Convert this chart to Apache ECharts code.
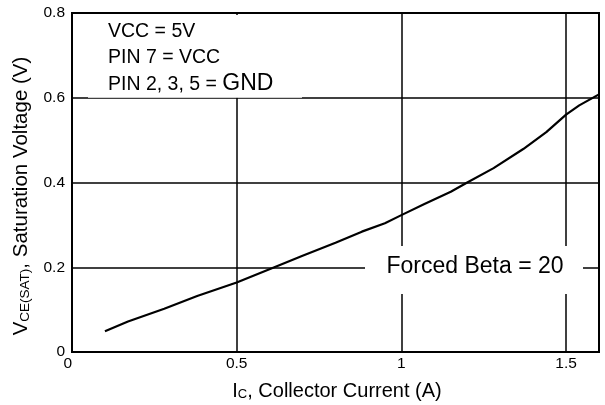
<!DOCTYPE html>
<html>
<head>
<meta charset="utf-8">
<script src="https://cdn.jsdelivr.net/npm/echarts@6/dist/echarts.min.js"></script>
<style>
html,body{margin:0;padding:0;background:#fff;}
#c{width:605px;height:405px;}
</style>
</head>
<body>
<div id="c"></div>
<script>
// Collector current (A)
const ic  = [0.10, 0.17, 0.28, 0.38, 0.50, 0.62, 0.70, 0.80, 0.88, 0.95, 1.00, 1.07, 1.15, 1.20, 1.28, 1.37, 1.44, 1.50, 1.54, 1.60];
// Saturation voltage (V)
const vce = [0.049, 0.072, 0.102, 0.132, 0.164, 0.202, 0.227, 0.258, 0.284, 0.304, 0.323, 0.349, 0.378, 0.400, 0.434, 0.479, 0.519, 0.560, 0.582, 0.608];
const conditions = ['VCC = 5V', 'PIN 7 = VCC', 'PIN 2, 3, 5 = '];
const conditionTail = 'GND';
const curveLabel = 'Forced Beta = 20';

const FONT = '"Liberation Sans", Arial, sans-serif';
const chart = echarts.init(document.getElementById('c'), null, {renderer: 'canvas'});

const gLeft = 72, gTop = 13, gRight = 6, gBottom = 53;

chart.setOption({
  animation: false,
  backgroundColor: '#fff',
  grid: {left: gLeft, top: gTop, right: gRight, bottom: gBottom, show: true, borderColor: '#000', borderWidth: 2, containLabel: false},
  xAxis: {
    type: 'value', min: 0, max: 1.6, interval: 0.5,
    axisLine: {show: true, onZero: false, lineStyle: {color: '#000', width: 2}},
    axisTick: {show: false},
    splitLine: {show: true, lineStyle: {color: '#000', width: 1.5}},
    axisLabel: {color: '#000', fontFamily: FONT, fontSize: 15.5, margin: 4, showMaxLabel: false, alignMinLabel: 'right'}
  },
  yAxis: {
    type: 'value', min: 0, max: 0.8, interval: 0.2,
    axisLine: {show: true, onZero: false, lineStyle: {color: '#000', width: 2}},
    axisTick: {show: false},
    splitLine: {show: true, lineStyle: {color: '#000', width: 1.5}},
    axisLabel: {color: '#000', fontFamily: FONT, fontSize: 15.5, margin: 7}
  },
  series: [{
    type: 'line', data: ic.map((x, i) => [x, vce[i]]),
    showSymbol: false, smooth: false, clip: true,
    lineStyle: {color: '#000', width: 2.2}, z: 5
  }],
  graphic: [
    {type: 'rect', z: 10, shape: {x: 88, y: 15, width: 214, height: 82.8}, style: {fill: '#fff'}},
    {type: 'rect', z: 10, shape: {x: 365, y: 246, width: 218, height: 48}, style: {fill: '#fff'}},
    {type: 'text', z: 11, x: 108, y: 32, style: {text: conditions[0], fill: '#000', font: '19.5px ' + FONT, textVerticalAlign: 'middle'}},
    {type: 'text', z: 11, x: 108, y: 57.5, style: {text: conditions[1], fill: '#000', font: '19.5px ' + FONT, textVerticalAlign: 'middle'}},
    {type: 'text', z: 11, x: 108, y: 83, style: {
      text: '{a|' + conditions[2] + '}{b|' + conditionTail + '}', textVerticalAlign: 'middle',
      rich: {a: {fontSize: 19.5, fontFamily: FONT, fill: '#000', verticalAlign: 'bottom', lineHeight: 24},
             b: {fontSize: 23, fontFamily: FONT, fill: '#000', verticalAlign: 'bottom', lineHeight: 24}}
    }},
    {type: 'text', z: 11, x: 475, y: 267, style: {text: curveLabel, fill: '#000', font: '23px ' + FONT, textAlign: 'center', textVerticalAlign: 'middle'}},
    {type: 'text', z: 11, x: 337, y: 389, style: {
      text: '{a|I}{b|C}{a|, Collector Current (A)}', textAlign: 'center', textVerticalAlign: 'middle',
      rich: {a: {fontSize: 20, fontFamily: FONT, fill: '#000', verticalAlign: 'bottom', lineHeight: 24},
             b: {fontSize: 13, fontFamily: FONT, fill: '#000', verticalAlign: 'bottom', lineHeight: 19}}
    }},
    {type: 'text', z: 11, x: 20, y: 196, rotation: Math.PI / 2, style: {
      text: '{a|V}{b|CE(SAT)}{a|, Saturation Voltage (V)}', textAlign: 'center', textVerticalAlign: 'middle',
      rich: {a: {fontSize: 20.5, fontFamily: FONT, fill: '#000', verticalAlign: 'bottom', lineHeight: 24},
             b: {fontSize: 13.5, fontFamily: FONT, fill: '#000', verticalAlign: 'bottom', lineHeight: 19}}
    }}
  ]
});
</script>
</body>
</html>
